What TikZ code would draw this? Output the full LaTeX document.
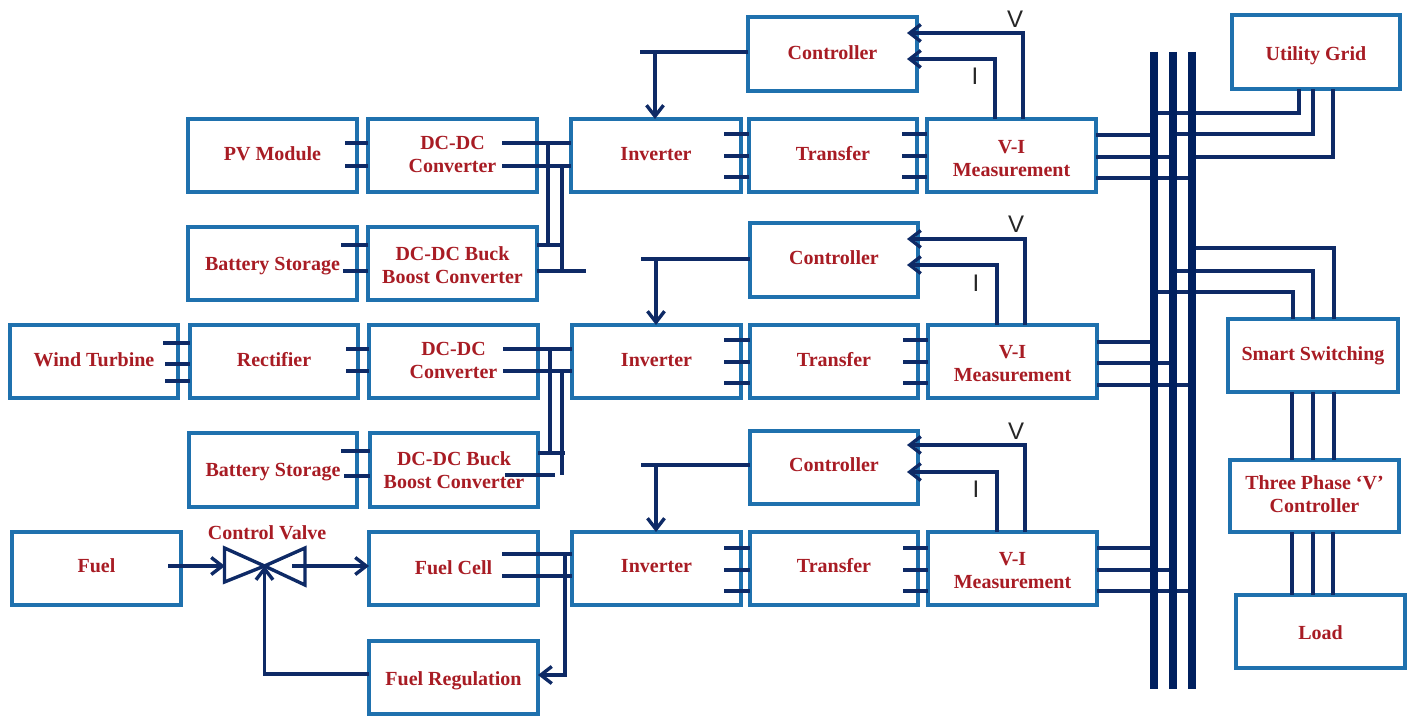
\documentclass[tikz,border=0pt]{standalone}
\usepackage{fontspec}
\setmainfont{Liberation Serif}
\newfontfamily\sansf{Liberation Sans}
\usetikzlibrary{arrows.meta}
\definecolor{boxblue}{HTML}{1F71AE}
\definecolor{navy}{HTML}{0E2A66}
\definecolor{busnavy}{HTML}{00205F}
\definecolor{txtred}{HTML}{A81C24}
\tikzset{
  blk/.style={draw=boxblue,line width=3.4pt,fill=white,rectangle,inner sep=0pt,outer sep=0pt,text=txtred,font=\fontsize{20}{23}\selectfont\bfseries},
  conn/.style={draw=navy,line width=3.4pt},
  arr/.style={conn,-{Straight Barb[length=11pt,width=17pt,line width=3.4pt]}},
  bus/.style={draw=busnavy,line width=7.5pt},
  sig/.style={font=\sansf\fontsize{24}{24}\selectfont,text=black!85,inner sep=0pt},
  vlabel/.style={text=txtred,font=\fontsize{20}{23}\selectfont\bfseries,inner sep=0pt},
  valve/.style={draw=navy,line width=3.4pt,line join=miter}
}
% name, x1, y1, x2, y2, y of the text's centre, text
\newcommand{\bx}[7]{%
  \pgfmathsetmacro{\cxv}{(#2+#4)/2}\pgfmathsetmacro{\cyv}{(#3+#5)/2}%
  \pgfmathsetmacro{\wv}{#4-#2}\pgfmathsetmacro{\hv}{#5-#3}%
  \pgfmathsetmacro{\rv}{\cyv-#6-8}%
  \node[blk,minimum width=\wv pt,minimum height=\hv pt] (#1) at (\cxv,\cyv)
    {\raisebox{\rv pt}[0pt][0pt]{\begin{tabular}{@{}c@{}}#7\end{tabular}}};}
\begin{document}
\begin{tikzpicture}[x=1pt,y=-1pt]
\useasboundingbox (0,0) rectangle (1415,717);
% buses
\coordinate (busA) at (1154,52); \coordinate (busAe) at (1154,689);
\coordinate (busB) at (1173,52); \coordinate (busBe) at (1173,689);
\coordinate (busC) at (1192,52); \coordinate (busCe) at (1192,689);
% row 1
\bx{pv}{188}{119}{357}{192}{153}{PV Module}
\bx{dca}{368}{119}{537}{192}{154}{DC-DC\\Converter}
\bx{bata}{188}{227}{357}{300}{263}{Battery Storage}
\bx{bucka}{368}{227}{537}{300}{264.5}{DC-DC Buck\\Boost Converter}
\bx{inva}{571}{119}{741}{192}{153}{Inverter}
\bx{tra}{749}{119}{917}{192}{153}{Transfer}
\bx{via}{927}{119}{1096}{192}{157.5}{V-I\\Measurement}
\bx{cta}{748}{17}{917}{91}{52}{Controller}
\bx{grid}{1232}{15}{1400}{89}{53}{Utility Grid}
% row 2
\bx{wind}{10}{325}{178}{398}{359}{Wind Turbine}
\bx{rect}{190}{325}{358}{398}{359}{Rectifier}
\bx{dcb}{369}{325}{538}{398}{359.5}{DC-DC\\Converter}
\bx{batb}{189}{433}{357}{507}{469}{Battery Storage}
\bx{buckb}{370}{433}{538}{507}{469.5}{DC-DC Buck\\Boost Converter}
\bx{invb}{572}{325}{741}{398}{359}{Inverter}
\bx{trb}{750}{325}{918}{398}{359}{Transfer}
\bx{vib}{928}{325}{1097}{398}{362.5}{V-I\\Measurement}
\bx{ctb}{750}{223}{918}{297}{257}{Controller}
% row 3
\bx{fuel}{12}{532}{181}{605}{565}{Fuel}
\bx{cell}{369}{532}{538}{605}{567}{Fuel Cell}
\bx{reg}{369}{641}{538}{714}{678}{Fuel Regulation}
\bx{invc}{572}{532}{741}{605}{565}{Inverter}
\bx{trc}{750}{532}{918}{605}{565}{Transfer}
\bx{vic}{928}{532}{1097}{605}{569.5}{V-I\\Measurement}
\bx{ctc}{750}{431}{918}{504}{464}{Controller}
% right column
\bx{smart}{1228}{319}{1398}{392}{353}{Smart Switching}
\bx{three}{1230}{460}{1399}{532}{493.5}{Three Phase ‘V’\\Controller}
\bx{load}{1236}{595}{1405}{668}{632}{Load}
% stubs row 1
\foreach \yy in {143,166} \draw[conn] (pv.east |- 0,\yy) ++(-12,0) -- (dca.west |- 0,\yy);
\draw[conn] (dca.east |- 0,143) ++(-35,0) -- (inva.west |- 0,143);
\draw[conn] (dca.east |- 0,166) ++(-35,0) -- (inva.west |- 0,166);
\coordinate (ja) at (548,143); \coordinate (jb) at (562,166);
\draw[conn] (ja) -- (ja |- 0,245);
\draw[conn] (jb) -- (jb |- 0,271);
\draw[conn] (bucka.east |- 0,245) -- (jb |- 0,245);
\draw[conn] (bucka.east |- 0,271) -- ++(49,0);
\draw[conn] (bata.east |- 0,245) ++(-16,0) -- (bucka.west |- 0,245);
\draw[conn] (bata.east |- 0,271) ++(-14,0) -- (bucka.west |- 0,271);
\foreach \yy in {134,156,177} {
  \draw[conn] (inva.east |- 0,\yy) ++(-17,0) -- (tra.west |- 0,\yy);
  \draw[conn] (tra.east |- 0,\yy) ++(-15,0) -- (via.west |- 0,\yy);
}
\draw[conn] (cta.west |- 0,52) -- ++(-108,0);
\draw[arr] (655,52) -- (inva.north -| 655,0);
\draw[arr] (via.north -| 1023,0) -- (1023,33) -- (907,33);
\draw[arr] (via.north -| 995,0) -- (995,59) -- (907,59);
\node[sig] (va) at (1015,19) {V};
\node[sig] (ia) at (975,76) {I};
\draw[conn] (via.east |- 0,135) -- (busA |- 0,135);
\draw[conn] (via.east |- 0,157) -- (busB |- 0,157);
\draw[conn] (via.east |- 0,178) -- (busC |- 0,178);
\draw[conn] (grid.south -| 1299,0) |- (busA |- 0,113);
\draw[conn] (grid.south -| 1313,0) |- (busB |- 0,134);
\draw[conn] (grid.south -| 1333,0) |- (busC |- 0,157);
% row 2
\foreach \yy/\xs in {343/15,364/13,381/13} \draw[conn] (wind.east |- 0,\yy) ++(-\xs,0) -- (rect.west |- 0,\yy);
\foreach \yy in {349,371} {
  \draw[conn] (rect.east |- 0,\yy) ++(-12,0) -- (dcb.west |- 0,\yy);
  \draw[conn] (dcb.east |- 0,\yy) ++(-35,0) -- (invb.west |- 0,\yy);
}
\coordinate (jc) at (550,349); \coordinate (jd) at (562,371);
\draw[conn] (jc) -- (jc |- 0,453);
\draw[conn] (jd) -- (jd |- 0,475);
\draw[conn] (buckb.east |- 0,453) -- ++(27,0);
\draw[conn] (buckb.east |- 0,475) ++(-33,0) -- ++(50,0);
\draw[conn] (batb.east |- 0,451) ++(-16,0) -- (buckb.west |- 0,451);
\draw[conn] (batb.east |- 0,476) ++(-13,0) -- (buckb.west |- 0,476);
\foreach \yy in {340,362,383} {
  \draw[conn] (invb.east |- 0,\yy) ++(-17,0) -- (trb.west |- 0,\yy);
  \draw[conn] (trb.east |- 0,\yy) ++(-15,0) -- (vib.west |- 0,\yy);
}
\draw[conn] (ctb.west |- 0,259) -- ++(-109,0);
\draw[arr] (656,259) -- (invb.north -| 656,0);
\draw[arr] (vib.north -| 1025,0) -- (1025,239) -- (907,239);
\draw[arr] (vib.north -| 997,0) -- (997,265) -- (907,265);
\node[sig] (vb) at (1016,224) {V};
\node[sig] (ib) at (976,283) {I};
\draw[conn] (vib.east |- 0,342) -- (busA |- 0,342);
\draw[conn] (vib.east |- 0,363) -- (busB |- 0,363);
\draw[conn] (vib.east |- 0,385) -- (busC |- 0,385);
\draw[conn] (smart.north -| 1293,0) |- (busA |- 0,292);
\draw[conn] (smart.north -| 1313,0) |- ([xshift=-4pt]busB |- 0,271);
\draw[conn] (smart.north -| 1334,0) |- ([xshift=-4pt]busC |- 0,248);
\foreach \xx in {1292,1313,1334} \draw[conn] (smart.south -| \xx,0) -- (three.north -| \xx,0);
\foreach \xx in {1292,1313,1333} \draw[conn] (three.south -| \xx,0) -- (load.north -| \xx,0);
% row 3
\coordinate (vc) at (264.5,566);
\coordinate (fj) at (565,554);
\draw[valve] (224.5,548) -- (224.5,582) -- (vc) -- cycle;
\draw[valve] (305,548) -- (305,585) -- (vc) -- cycle;
\node[vlabel] (vlab) at (267,533) {Control Valve};
\draw[arr] (fuel.east |- 0,566) ++(-13,0) -- (225,566);
\draw[arr] (292,566) -- (cell.west |- 0,566);
\draw[arr] (reg.west |- 0,674) -- (vc |- 0,674) -- (vc);
\draw[conn] (cell.east |- 0,554) ++(-36,0) -- (invc.west |- 0,554);
\draw[conn] (cell.east |- 0,576) ++(-36,0) -- (invc.west |- 0,576);
\draw[arr] (fj) -- (fj |- 0,675) -- (reg.east |- 0,675);
\foreach \yy in {548,570,591} {
  \draw[conn] (invc.east |- 0,\yy) ++(-17,0) -- (trc.west |- 0,\yy);
  \draw[conn] (trc.east |- 0,\yy) ++(-15,0) -- (vic.west |- 0,\yy);
}
\draw[conn] (ctc.west |- 0,465) -- ++(-109,0);
\draw[arr] (656,465) -- (invc.north -| 656,0);
\draw[arr] (vic.north -| 1025,0) -- (1025,445) -- (907,445);
\draw[arr] (vic.north -| 997,0) -- (997,472) -- (907,472);
\node[sig] (vcc) at (1016,431) {V};
\node[sig] (ic) at (976,489) {I};
\draw[conn] (vic.east |- 0,548) -- (busA |- 0,548);
\draw[conn] (vic.east |- 0,570) -- (busB |- 0,570);
\draw[conn] (vic.east |- 0,591) -- (busC |- 0,591);
% bus bars
\draw[bus] (busA) -- (busAe);
\draw[bus] (busB) -- (busBe);
\draw[bus] (busC) -- (busCe);
\end{tikzpicture}
\end{document}
